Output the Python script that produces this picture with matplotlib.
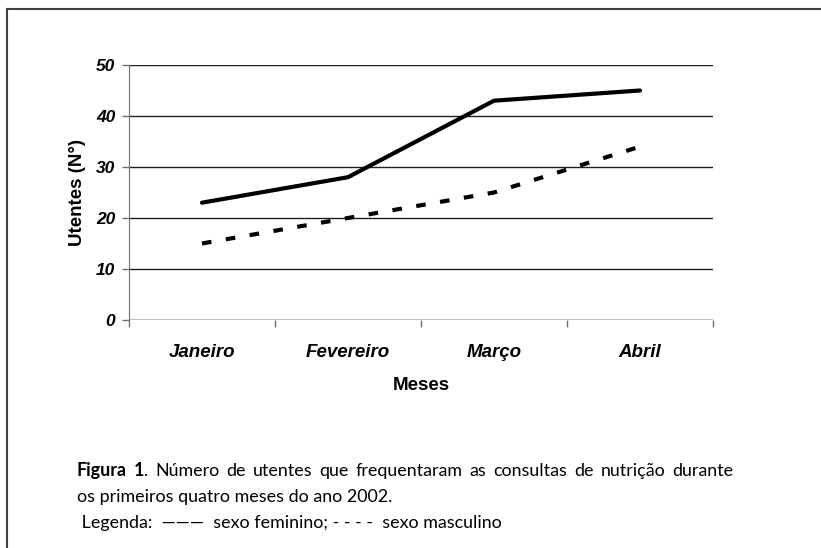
import matplotlib.pyplot as plt
from matplotlib.lines import Line2D
import numpy as np

meses = ["Janeiro", "Fevereiro", "Março", "Abril"]
feminino = [23, 28, 43, 45]
masculino = [15, 20, 25, 34]
y_ticks = [0, 10, 20, 30, 40, 50]

fig = plt.figure(figsize=(8.21, 5.48), dpi=100)
ax = fig.add_axes([0.1571, 0.4161, 0.7114, 0.4653])

x = np.arange(len(meses))
ax.plot(x, feminino, color="black", lw=3.0, solid_capstyle="round")
ax.plot(x, masculino, color="black", lw=3.0, linestyle=(0, (2.3, 3.5)),
        dash_capstyle="butt")

ax.set_xlim(-0.5, len(meses) - 0.5)
ax.set_ylim(0, 50)
ax.set_yticks(y_ticks)
ax.set_xticks(x)
ax.set_xticklabels(meses)
ax.set_xticks(np.arange(len(meses) + 1) - 0.5, minor=True)
ax.tick_params(axis="x", which="major", length=0, pad=17)
ax.tick_params(axis="x", which="minor", length=5, color="#707070", width=1)
ax.tick_params(axis="y", length=5, color="#707070", width=1, pad=5)
for lab in ax.get_xticklabels():
    lab.set_family("Liberation Sans")
    lab.set_fontweight("bold")
    lab.set_fontstyle("italic")
    lab.set_fontsize(13.5)
for lab in ax.get_yticklabels():
    lab.set_family("Liberation Sans")
    lab.set_fontweight("bold")
    lab.set_fontstyle("italic")
    lab.set_fontsize(12.5)

ax.grid(axis="y", color="#202020", lw=1)
ax.set_axisbelow(True)
for s in ["top", "right", "bottom"]:
    ax.spines[s].set_visible(False)
ax.spines["left"].set_color("#707070")
ax.axhline(0, color="#707070", lw=1)

ax.set_xlabel("Meses", family="Liberation Sans", fontweight="bold",
              fontsize=13.5, labelpad=12)
ax.set_ylabel("Utentes (N°)", family="Liberation Sans", fontweight="bold",
              fontsize=13.5, labelpad=7)

# moldura (só topo e esquerda visíveis)
fig.add_artist(Line2D([0.0085, 1.0], [1 - 9 / 548, 1 - 9 / 548],
                      transform=fig.transFigure, color="#404040", lw=1.5))
fig.add_artist(Line2D([0.0085, 0.0085], [0, 1 - 9 / 548],
                      transform=fig.transFigure, color="#404040", lw=1.5))

# legenda / texto da figura (1a linha justificada)
cap_font = dict(family="Lato", fontsize=12.9)
W, H = fig.get_size_inches() * fig.dpi
renderer = fig.canvas.get_renderer()

linha1 = "Figura 1. Número de utentes que frequentaram as consultas de nutrição durante"
palavras = linha1.split(" ")
x_ini, x_fim, y1 = 77, 733, 476


def peças(p):
    # "Figura" e "1" a negrito, o resto normal
    if p == "Figura":
        return [(p, "bold")]
    if p == "1.":
        return [("1", "bold"), (".", "normal")]
    return [(p, "normal")]


def largura(txt, peso):
    t = fig.text(0, 0, txt, fontweight=peso, **cap_font)
    w = t.get_window_extent(renderer).width
    t.remove()
    return w


larguras = [sum(largura(t, w) for t, w in peças(p)) for p in palavras]
gap = (x_fim - x_ini - sum(larguras)) / (len(palavras) - 1)
xp = x_ini
for p, lw_ in zip(palavras, larguras):
    xx = xp
    for t, w in peças(p):
        fig.text(xx / W, 1 - y1 / H, t, fontweight=w, va="baseline", **cap_font)
        xx += largura(t, w)
    xp += lw_ + gap

fig.text(77 / W, 1 - 502 / H, "os primeiros quatro meses do ano 2002.",
         va="baseline", **cap_font)
fig.text(77 / W, 1 - 528 / H,
         " Legenda:  ———  sexo feminino; - - - -  sexo masculino",
         va="baseline", **cap_font)

fig.savefig("out.png", dpi=100)
